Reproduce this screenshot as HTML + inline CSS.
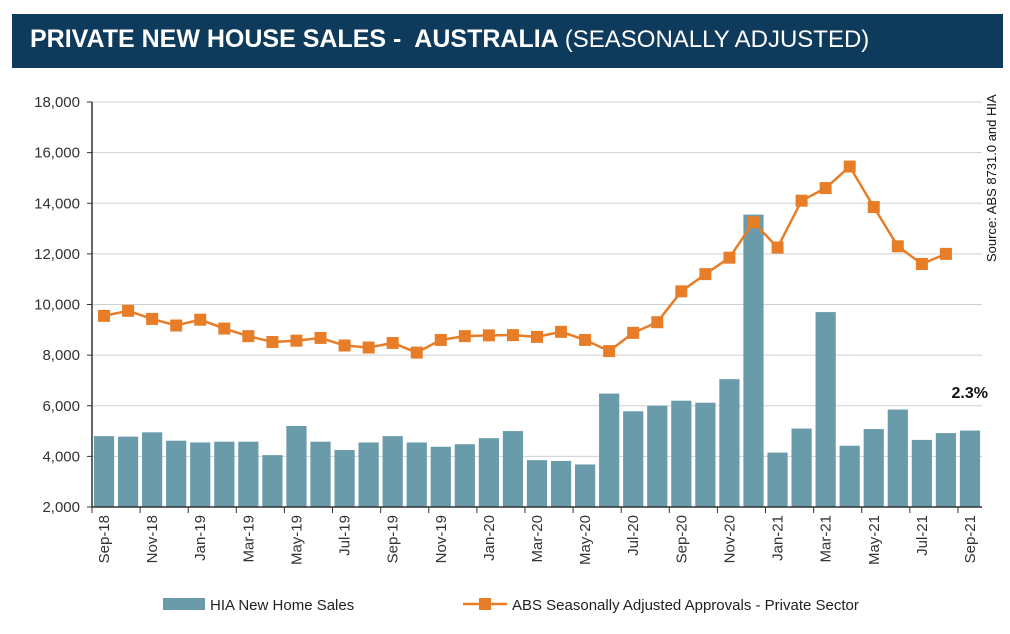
<!DOCTYPE html>
<html><head><meta charset="utf-8"><style>
body{margin:0;background:#fff;font-family:"Liberation Sans",Arial,sans-serif}
#wrap{position:relative;width:1010px;height:634px;overflow:hidden}
#title{position:absolute;left:12px;top:14px;width:991px;height:54px;background:#0e3a5b;color:#fff;font-size:25px;font-weight:bold;line-height:50px;padding-left:18px;box-sizing:border-box;white-space:pre}
#title span{font-weight:normal;font-size:24px}
</style></head><body>
<div id="wrap">
<div id="title">PRIVATE NEW HOUSE SALES -  AUSTRALIA <span>(SEASONALLY ADJUSTED)</span></div>
<svg id="chart" width="1010" height="634" style="position:absolute;left:0;top:0"></svg>
</div>
<script>
const months=["Sep-18","Oct-18","Nov-18","Dec-18","Jan-19","Feb-19","Mar-19","Apr-19","May-19","Jun-19","Jul-19","Aug-19","Sep-19","Oct-19","Nov-19","Dec-19","Jan-20","Feb-20","Mar-20","Apr-20","May-20","Jun-20","Jul-20","Aug-20","Sep-20","Oct-20","Nov-20","Dec-20","Jan-21","Feb-21","Mar-21","Apr-21","May-21","Jun-21","Jul-21","Aug-21","Sep-21"];
const hiaSales=[4800,4780,4950,4620,4550,4580,4580,4050,5200,4580,4250,4550,4800,4550,4380,4480,4720,5000,3850,3820,3680,6480,5780,6000,6200,6120,7050,13550,4150,5100,9700,4420,5080,5850,4650,4920,5020];
const absApprovals=[9550,9750,9430,9170,9400,9050,8750,8520,8570,8680,8380,8300,8480,8100,8600,8750,8780,8790,8720,8920,8600,8160,8880,9300,10520,11200,11850,13250,12250,14100,14600,15450,13850,12300,11600,12000];
const yTicks=[2000,4000,6000,8000,10000,12000,14000,16000,18000];
const NS="http://www.w3.org/2000/svg",svg=document.getElementById('chart');
const L=92,R=982,T=102,B=507,yMin=2000,yMax=18000;
const bw=(R-L)/months.length;
const x=i=>L+bw*(i+0.5), y=v=>B-(v-yMin)/(yMax-yMin)*(B-T);
function mk(t,a,p){const e=document.createElementNS(NS,t);for(const k in a)e.setAttribute(k,a[k]);(p||svg).appendChild(e);return e;}
yTicks.forEach(v=>{
 if(v>yMin){const g=mk('line',{x1:L,x2:R,y1:y(v),y2:y(v),stroke:'#d0d0d0','stroke-width':1});
 
 }
 const tk=mk('line',{x1:L-5,x2:L,y1:y(v),y2:y(v),stroke:'#333'});
 
 
 const t=mk('text',{x:L-12,y:y(v)+5,'text-anchor':'end','font-size':15,fill:'#333'});
 t.textContent=v.toLocaleString('en-US');
 
 
});
hiaSales.forEach((v,i)=>{
 const r=mk('rect',{x:x(i)-bw*0.42,y:y(v),width:bw*0.84,height:B-y(v),fill:'#6a9bab'});
 
 
});
mk('line',{x1:L,x2:L,y1:T,y2:B,stroke:'#333','stroke-width':1.5});
mk('line',{x1:L,x2:R,y1:B,y2:B,stroke:'#333','stroke-width':1.5});
months.forEach((m,i)=>{
 if(i%2)return;
 const tk=mk('line',{x1:L+bw*i,x2:L+bw*i,y1:B,y2:B+6,stroke:'#333'});
 
 
 const t=mk('text',{transform:`translate(${x(i)+5},${B+8}) rotate(-90)`,'text-anchor':'end','font-size':15,fill:'#333'});
 t.textContent=m;
 
 
});
const pl=mk('polyline',{points:absApprovals.map((v,i)=>x(i)+','+y(v)).join(' '),fill:'none',stroke:'#e87d28','stroke-width':2.5});


absApprovals.forEach((v,i)=>{
 const r=mk('rect',{x:x(i)-6,y:y(v)-6,width:12,height:12,fill:'#e87d28'});
 
 
});
const pct=mk('text',{x:988,y:398,'text-anchor':'end','font-size':16,'font-weight':'bold',fill:'#111'});
pct.textContent='2.3%';


const src=mk('text',{transform:'translate(996,262) rotate(-90)','font-size':13,fill:'#111'});
src.textContent='Source: ABS 8731.0 and HIA';


const lg1=mk('rect',{x:163,y:598,width:42,height:12,fill:'#6a9bab'});


const lt1=mk('text',{x:210,y:610,'font-size':15,fill:'#222'});
lt1.textContent='HIA New Home Sales';


const lg2=mk('line',{x1:463,x2:507,y1:604,y2:604,stroke:'#e87d28','stroke-width':2.5});


mk('rect',{x:479,y:598,width:12,height:12,fill:'#e87d28'});
const lt2=mk('text',{x:512,y:610,'font-size':15,fill:'#222'});
lt2.textContent='ABS Seasonally Adjusted Approvals - Private Sector';


</script>
</body></html>
